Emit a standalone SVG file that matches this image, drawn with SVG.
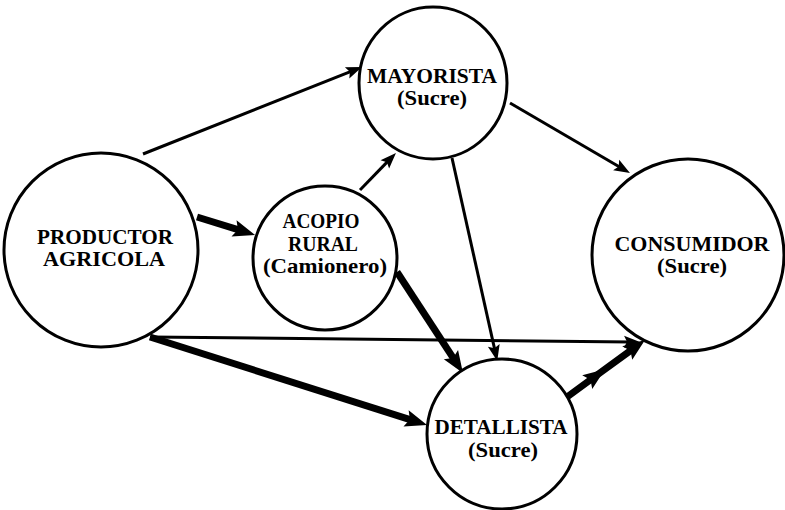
<svg xmlns="http://www.w3.org/2000/svg" width="785" height="510" viewBox="0 0 785 510">
<style>
  .node { fill: #ffffff; stroke: #000000; stroke-width: 3; }
  .lbl { font-family: "Liberation Serif", "Times New Roman", serif; font-weight: bold; font-size: 20px; fill: #000000; text-anchor: middle; }
  .thin { fill: none; stroke: #000000; stroke-width: 3; }
  .thick { fill: none; stroke: #000000; stroke-width: 7; }
</style>
<defs>
  <marker id="ahThin" markerUnits="userSpaceOnUse" markerWidth="18" markerHeight="14" refX="7" refY="6" orient="auto" overflow="visible">
    <path d="M0,0 L16,6 L0,12 L3,6 z" fill="#000000"/>
  </marker>
  <marker id="ahThick" markerUnits="userSpaceOnUse" markerWidth="24" markerHeight="20" refX="10" refY="8.5" orient="auto" overflow="visible">
    <path d="M0,0 L22,8.5 L0,17 L4,8.5 z" fill="#000000"/>
  </marker>
</defs>
<rect x="0" y="0" width="785" height="510" fill="#ffffff"/>

<g id="connectors">
  <line id="e-prod-may" class="thin" x1="143" y1="154" x2="353.6" y2="70.3" marker-end="url(#ahThin)"/>
  <line id="e-prod-aco" class="thick" x1="197" y1="217" x2="243.6" y2="231.4" marker-end="url(#ahThick)"/>
  <line id="e-aco-may" class="thin" x1="360" y1="190" x2="389.7" y2="159.4" marker-end="url(#ahThin)"/>
  <line id="e-may-con" class="thin" x1="510" y1="103" x2="622.2" y2="168.5" marker-end="url(#ahThin)"/>
  <line id="e-may-det" class="thin" x1="452" y1="158" x2="495.3" y2="352.2" marker-end="url(#ahThin)"/>
  <line id="e-aco-det" class="thick" x1="397" y1="272" x2="456.4" y2="362.9" marker-end="url(#ahThick)"/>
  <line id="e-prod-det" class="thick" x1="150" y1="337" x2="415.6" y2="421.4" marker-end="url(#ahThick)"/>
  <line id="e-prod-con" class="thin" x1="150" y1="337" x2="631" y2="341.9" marker-end="url(#ahThin)"/>
  <polyline id="e-det-con" class="thick" points="567,397 595.3,376.3 635.3,347.1" marker-mid="url(#ahThick)" marker-end="url(#ahThick)"/>
</g>

<g id="productor">
  <circle class="node" cx="101" cy="250" r="97"/>
  <text class="lbl" x="105" y="244" textLength="136" lengthAdjust="spacingAndGlyphs">PRODUCTOR</text>
  <text class="lbl" x="104" y="266" textLength="122" lengthAdjust="spacingAndGlyphs">AGRICOLA</text>
</g>

<g id="mayorista">
  <ellipse class="node" cx="433" cy="83" rx="74" ry="76"/>
  <text class="lbl" x="432" y="83" textLength="130" lengthAdjust="spacingAndGlyphs">MAYORISTA</text>
  <text class="lbl" x="432" y="105" textLength="70" lengthAdjust="spacingAndGlyphs">(Sucre)</text>
</g>

<g id="acopio">
  <circle class="node" cx="325" cy="258" r="72"/>
  <text class="lbl" x="321" y="228" textLength="77" lengthAdjust="spacingAndGlyphs">ACOPIO</text>
  <text class="lbl" x="323" y="251" textLength="70" lengthAdjust="spacingAndGlyphs">RURAL</text>
  <text class="lbl" x="325" y="273" textLength="124" lengthAdjust="spacingAndGlyphs">(Camionero)</text>
</g>

<g id="consumidor">
  <circle class="node" cx="688" cy="255" r="96"/>
  <text class="lbl" x="692" y="251" textLength="155" lengthAdjust="spacingAndGlyphs">CONSUMIDOR</text>
  <text class="lbl" x="692" y="273" textLength="70" lengthAdjust="spacingAndGlyphs">(Sucre)</text>
</g>

<g id="detallista">
  <circle class="node" cx="502" cy="434" r="75"/>
  <text class="lbl" x="501" y="434" textLength="133" lengthAdjust="spacingAndGlyphs">DETALLISTA</text>
  <text class="lbl" x="503" y="457" textLength="70" lengthAdjust="spacingAndGlyphs">(Sucre)</text>
</g>
</svg>
